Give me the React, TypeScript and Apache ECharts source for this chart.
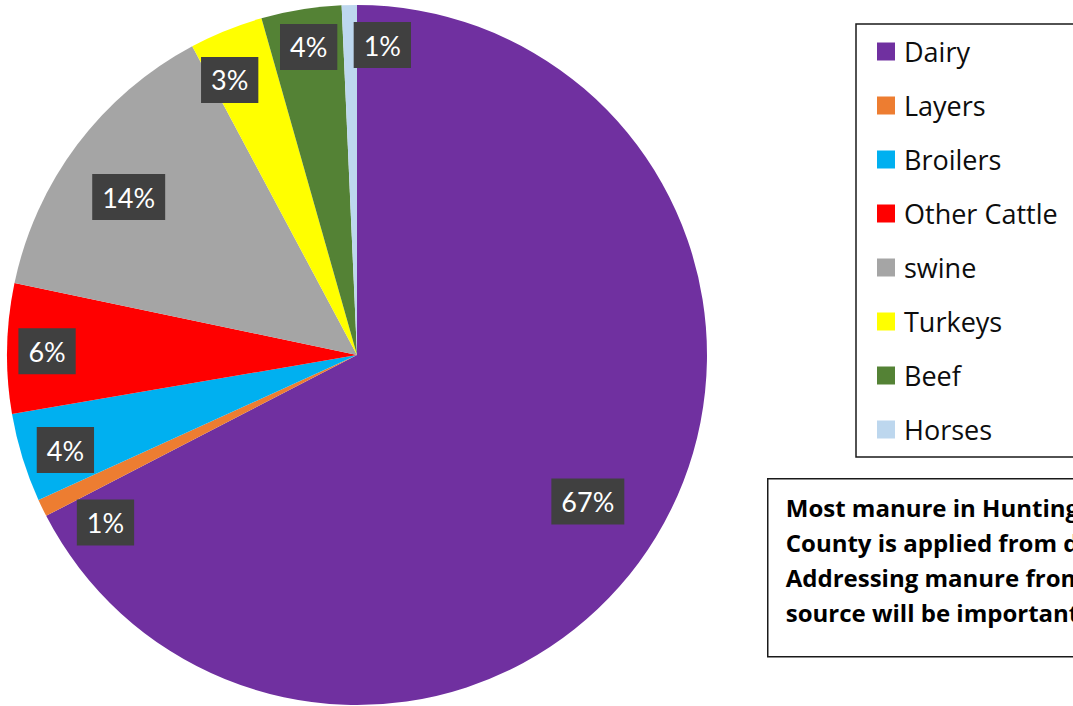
import React, { useEffect, useRef } from "react";
import * as echarts from "echarts";

const categories = ["Dairy", "Layers", "Broilers", "Other Cattle", "swine", "Turkeys", "Beef", "Horses"];
const shares = [67.4, 0.8, 4.1, 6.0, 13.9, 3.4, 3.7, 0.7];
const colors = ["#7030A0", "#ED7D31", "#00B0F0", "#FF0000", "#A5A5A5", "#FFFF00", "#548235", "#BDD7EE"];
const noteLines = [
  "Most manure in Huntingdon",
  "County is applied from dairy.",
  "Addressing manure from this",
  "source will be important.",
];
// label nudges (style only) so labels sit where the reference shows them
const labelNudge: [number, number][] = [
  [-28, -11], [21, 35], [-2, 6], [-7, 2], [14, 24], [-14, 6], [0, -9], [32, -7],
];

const LABEL_FONT = "Lato, 'Open Sans', sans-serif";
const TEXT_FONT = "'Open Sans', Lato, sans-serif";

export default function App() {
  const ref = useRef<HTMLDivElement>(null);
  useEffect(() => {
    if (!ref.current) return;
    const chart = echarts.init(ref.current, undefined, { renderer: "svg" });
    const data = categories.map((name, i) => ({ name, value: shares[i], itemStyle: { color: colors[i] } }));
    chart.setOption({
      animation: false,
      backgroundColor: "#ffffff",
      legend: {
        orient: "vertical",
        left: 856,
        top: 24,
        padding: [14, 40, 14, 21],
        borderColor: "#1a1a1a",
        borderWidth: 1.5,
        itemWidth: 18,
        itemHeight: 18,
        itemGap: 27,
        icon: "rect",
        selectedMode: false,
        data: categories.map((n, i) => ({ name: n, itemStyle: { color: colors[i] } })),
        textStyle: { fontFamily: TEXT_FONT, fontSize: 27, color: "#0d0d0d", padding: [0, 0, 0, 4] },
      },
      series: [
        {
          type: "pie",
          center: [357, 355],
          radius: [0, 350],
          startAngle: 90,
          clockwise: true,
          silent: true,
          label: { show: false },
          labelLine: { show: false },
          itemStyle: { borderWidth: 0 },
          data,
        },
        {
          type: "pie",
          center: [357, 355],
          radius: [250, 350],
          startAngle: 90,
          clockwise: true,
          silent: true,
          itemStyle: { color: "transparent", borderWidth: 0 },
          labelLine: { show: false },
          label: {
            show: true,
            position: "inside",
            formatter: (p: any) => Math.round(p.value) + "%",
            fontFamily: LABEL_FONT,
            fontSize: 27,
            color: "#ffffff",
            backgroundColor: "#404040",
            padding: [10, 10, 9, 10],
          },
          labelLayout: (p: any) => ({ dx: labelNudge[p.dataIndex][0], dy: labelNudge[p.dataIndex][1] }),
          data: categories.map((name, i) => ({ name, value: shares[i] })),
        },
      ],
      graphic: [
        {
          type: "group",
          left: 767,
          top: 478,
          children: [
            {
              type: "rect",
              shape: { x: 0, y: 0, width: 420, height: 178 },
              style: { fill: "#ffffff", stroke: "#1a1a1a", lineWidth: 1.5 },
            },
            {
              type: "text",
              x: 18,
              y: 11,
              style: {
                text: noteLines.join("\n"),
                fontFamily: TEXT_FONT,
                fontWeight: "bold",
                fontSize: 24,
                lineHeight: 35,
                fill: "#000000",
              },
            },
          ],
        },
      ],
    });
    return () => chart.dispose();
  }, []);
  return <div ref={ref} style={{ position: "fixed", left: 0, top: 0, width: 1073, height: 706 }} />;
}
